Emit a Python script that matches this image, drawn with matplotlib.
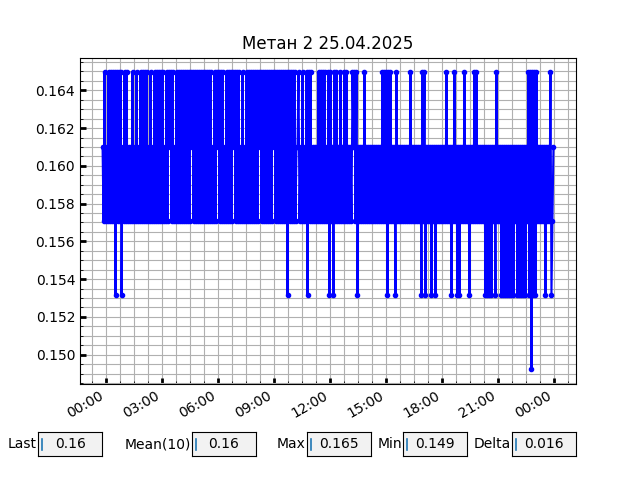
import matplotlib
matplotlib.use('Agg')
import matplotlib.pyplot as plt
import matplotlib.dates as mdates
from matplotlib.ticker import AutoMinorLocator
import pandas as pd

# ---------------- data ----------------
title = 'Метан 2 25.04.2025'
# quantised sensor levels (index used in the code string below)
levels = [0.14923, 0.15316, 0.15709, 0.16102, 0.16495]
start_time = '2025-04-24 23:49'
end_time = '2025-04-25 23:58'
# one character per sample
codes = (
    "3242324242" "4241424241" "3242423232" "4232423242" "4242423242"
    "3242424242" "4232424342" "4232424242" "4242424243" "4242424242"
    "4242424242" "3242434242" "4232424242" "4342424232" "4232424242"
    "4242424342" "4242424242" "4342424242" "4242414242" "4242334232"
    "4232414242" "3232324242" "4242324142" "3142423242" "3242423232"
    "4342413232" "3242323232" "3232323232" "4242414242" "3231423232"
    "3232323242" "3232323231" "4241323231" "3231323232" "3232423231"
    "3242313132" "3242323132" "3242423232" "3231313131" "3231423231"
    "3131313131" "3132313131" "3131324140" "4141423232" "3231323241"
    "23"
)
box_labels = ['Last', 'Mean(10)', 'Max', 'Min', 'Delta']
box_values = ['0.16', '0.16', '0.165', '0.149', '0.016']

values = [levels[int(c)] for c in codes]
times = pd.date_range(start_time, end_time, periods=len(values))

# ---------------- figure ----------------
fig = plt.figure(figsize=(6.4, 4.8), dpi=100)
ax = fig.add_subplot(111)
ax.plot(times, values, color='b', marker='o', markersize=3, linewidth=1.5)
ax.set_title(title)
ax.xaxis.set_major_formatter(mdates.DateFormatter('%H:%M'))
ax.xaxis.set_minor_locator(AutoMinorLocator())
ax.yaxis.set_minor_locator(AutoMinorLocator())
ax.grid(True, which='both', color='#b0b0b0', linewidth=0.8)
ax.set_axisbelow(True)
ax.tick_params(which='both', direction='in')
ax.tick_params(which='major', width=2, length=4)
fig.autofmt_xdate()

box_left = [0.06, 0.30, 0.48, 0.63, 0.80]
for lab, val, x0 in zip(box_labels, box_values, box_left):
    bax = fig.add_axes([x0, 0.05, 0.1, 0.05])
    bax.set_facecolor('0.95')
    bax.set_xticks([])
    bax.set_yticks([])
    bax.set_xlim(0, 1)
    bax.set_ylim(0, 1)
    bax.text(-0.02, 0.5, lab, ha='right', va='center', transform=bax.transAxes,
             fontsize=10)
    bax.text(0.5, 0.5, val, ha='center', va='center', transform=bax.transAxes,
             fontsize=10)
    bax.plot([0.06, 0.06], [0.25, 0.72], color='#1f77b4', linewidth=1.2)

fig.savefig('out.png', dpi=100)
